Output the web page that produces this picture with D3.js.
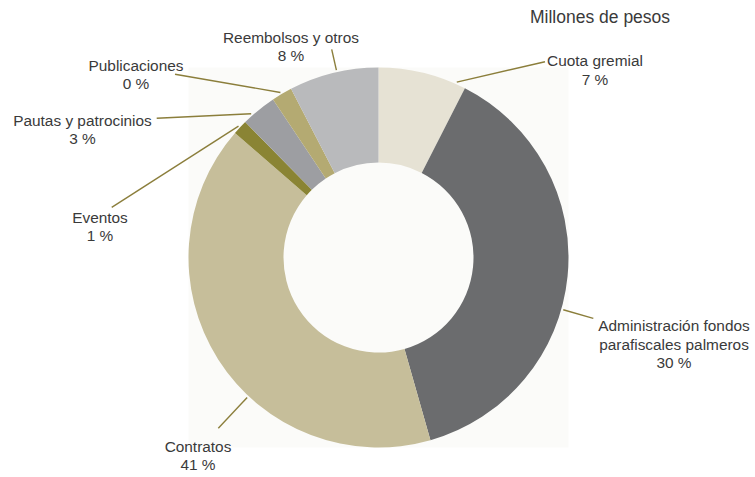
<!DOCTYPE html>
<html><head><meta charset="utf-8">
<script src="https://cdn.jsdelivr.net/npm/d3@7"></script>
<style>html,body{margin:0;padding:0;background:#fff;}svg{display:block;}</style>
</head><body>
<div id="chart"></div>
<script>
// ---- data ----
const categories = ["Cuota gremial","Administración fondos parafiscales palmeros","Contratos","Eventos","Pautas y patrocinios","Publicaciones","Reembolsos y otros"];
const values = [7.5, 38.0, 40.7, 1.25, 3.0, 1.75, 7.6];          // slice sizes
const percentLabels = ["7 %","30 %","41 %","1 %","3 %","0 %","8 %"];  // printed percentages
const labelLines = [["Cuota gremial"],["Administración fondos","parafiscales palmeros"],["Contratos"],["Eventos"],["Pautas y patrocinios"],["Publicaciones"],["Reembolsos y otros"]];
const title = "Millones de pesos";

// ---- layout / style (separate from data) ----
const W = 755, H = 477;
const cx = 378.5, cy = 257.5, R = 190, r0 = 95;
const colors = ["#e6e2d4","#6b6c6e","#c6be9a","#8a8434","#9d9ea2","#b4aa72","#b9babc"];
const leaderColor = "#8b7e3b";
const textColor = "#3a3a3a";
const fs = 15.4;
// label text anchors: center x, first baseline y, leader end point
const labelPos = [
  {x:595, y:66,  lx:545,   ly:61.7},
  {x:674, y:331, lx:593.3, ly:318.3},
  {x:198, y:451.5, lx:218.3, ly:428.3},
  {x:100, y:222.5, lx:111.7, ly:207.3},
  {x:82.5,y:125.5, lx:156.7, ly:118.3},
  {x:136, y:70.5, lx:175,   ly:74.3},
  {x:291, y:42.5, lx:331.7, ly:49.3}
];

const svg = d3.select("#chart").append("svg").attr("width", W).attr("height", H)
  .style("font-family", "'Liberation Sans', Arial, sans-serif");

// faint plot-area background
svg.append("rect").attr("x", cx - R).attr("y", cy - R).attr("width", 2*R).attr("height", 2*R)
  .attr("fill", "#fbfbf9");

const pie = d3.pie().sort(null).value(d => d)(values);
const arc = d3.arc().innerRadius(r0).outerRadius(R);
const g = svg.append("g").attr("transform", `translate(${cx},${cy})`);
g.selectAll("path.slice").data(pie).join("path").attr("class","slice")
  .attr("d", arc).attr("fill", (d,i) => colors[i]);

// leader lines
const lines = svg.append("g");
pie.forEach((d, i) => {
  const p = labelPos[i];
  let a = Math.atan2(p.lx - cx, -(p.ly - cy));
  if (a < 0) a += 2*Math.PI;
  const span = d.endAngle - d.startAngle;
  const inset = Math.min(span/2, 3*Math.PI/180);
  a = Math.max(d.startAngle + inset, Math.min(d.endAngle - inset, a));
  const rr = R + 2;
  const sx = cx + rr*Math.sin(a), sy = cy - rr*Math.cos(a);
  lines.append("line").attr("x1", sx).attr("y1", sy).attr("x2", p.lx).attr("y2", p.ly)
    .attr("stroke", leaderColor).attr("stroke-width", 1.4);
});

// labels
const lh = 18.5;
labelLines.forEach((ls, i) => {
  const p = labelPos[i];
  const t = svg.append("text").attr("text-anchor","middle").attr("fill", textColor).attr("font-size", fs);
  ls.concat([percentLabels[i]]).forEach((s, k) => {
    t.append("tspan").attr("x", p.x).attr("y", p.y + k*lh).text(s);
  });
});

svg.append("text").attr("x", 530).attr("y", 22.5).attr("font-size", 17.5)
  .attr("fill", textColor).text(title);
</script>
</body></html>
